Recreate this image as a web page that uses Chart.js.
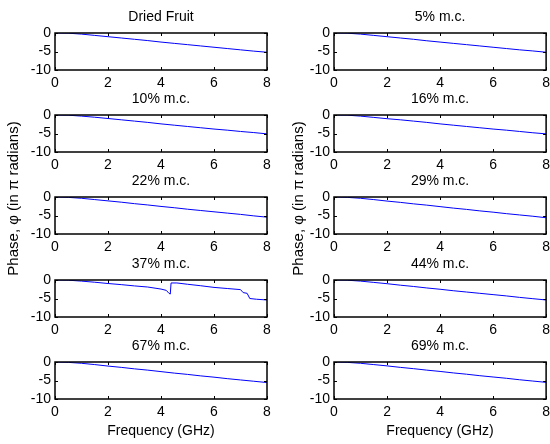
<!DOCTYPE html>
<html>
<head>
<meta charset="utf-8">
<script src="https://cdn.jsdelivr.net/npm/chart.js@4"></script>
<style>
  body { margin: 0; background: #fff; width: 550px; height: 444px; position: relative; overflow: hidden; }
  canvas { position: absolute; }
</style>
</head>
<body>
<script>
/* Datos (fase en pi radianes vs frecuencia en GHz). */
const freq = [0, 0.5, 1, 1.5, 2, 2.5, 3, 3.5, 4, 4.5, 5, 5.5, 6, 6.5, 7, 7.5, 8];
const dried = [0, -0.05, -0.3, -0.65, -1.0, -1.35, -1.7, -2.05, -2.45, -2.8, -3.15, -3.5, -3.85, -4.2, -4.55, -4.9, -5.2];
const mc5 = [0, -0.05, -0.3, -0.65, -1.0, -1.35, -1.7, -2.1, -2.45, -2.8, -3.15, -3.5, -3.85, -4.2, -4.55, -4.85, -5.2];
const mc10 = [0, -0.05, -0.3, -0.6, -0.95, -1.3, -1.65, -2.0, -2.4, -2.75, -3.1, -3.45, -3.8, -4.1, -4.45, -4.75, -5.1];
const mc16 = [0, -0.05, -0.3, -0.65, -1.0, -1.3, -1.65, -2.0, -2.4, -2.75, -3.1, -3.45, -3.8, -4.1, -4.45, -4.8, -5.1];
const mc22 = [0, -0.1, -0.35, -0.7, -1.05, -1.4, -1.8, -2.15, -2.55, -2.9, -3.3, -3.65, -4.0, -4.35, -4.7, -5.1, -5.45];
const mc29 = [0, -0.1, -0.35, -0.7, -1.1, -1.45, -1.85, -2.2, -2.6, -3.0, -3.35, -3.75, -4.1, -4.5, -4.85, -5.2, -5.6];
const freq37 = [0, 0.5, 1, 1.5, 2, 2.5, 3, 3.5, 4, 4.2, 4.3, 4.35, 4.38, 4.6, 5, 5.5, 6, 6.5, 7, 7.1, 7.25, 7.35, 7.6, 8];
const mc37 = [0, -0.05, -0.3, -0.6, -0.95, -1.25, -1.6, -1.9, -2.45, -2.8, -3.6, -3.8, -0.8, -0.8, -1.15, -1.55, -2.0, -2.3, -2.6, -3.4, -3.6, -5.0, -5.2, -5.4];
const mc44 = [0, -0.05, -0.3, -0.65, -1.0, -1.4, -1.75, -2.15, -2.5, -2.9, -3.25, -3.6, -3.95, -4.3, -4.7, -5.05, -5.4];
const mc67 = [0, -0.1, -0.35, -0.7, -1.1, -1.45, -1.85, -2.2, -2.6, -3.0, -3.35, -3.75, -4.1, -4.5, -4.85, -5.2, -5.55];
const mc69 = [0, -0.1, -0.35, -0.7, -1.05, -1.45, -1.8, -2.2, -2.55, -2.95, -3.3, -3.7, -4.05, -4.4, -4.8, -5.15, -5.5];

const titles = ["Dried Fruit", "5% m.c.", "10% m.c.", "16% m.c.", "22% m.c.", "29% m.c.", "37% m.c.", "44% m.c.", "67% m.c.", "69% m.c."];
const series = [dried, mc5, mc10, mc16, mc22, mc29, mc37, mc44, mc67, mc69];
const xTicks = [0, 2, 4, 6, 8];
const yTicks = [-10, -5, 0];
const xLabel = "Frequency (GHz)";
const yLabel = "Phase, \u03c6 (in \u03c0 radians)";

const rowTops = [33, 115, 197, 280, 362];
const plotH = 37;
const cols = [
  { canvasLeft: 0, width: 277, padRight: 10, labelOff: 41 },
  { canvasLeft: 279, width: 276, padRight: 0, labelOff: 35 },
];
const titleH = 26;
const labelRow = 2;
const labelExtraTop = 70;
const labelExtraBottom = 40;
const fontFam = '"Liberation Sans", Arial, Helvetica, sans-serif';

Chart.defaults.font.family = fontFam;
Chart.defaults.color = "#000";

/* Caja completa con marcas hacia adentro, como en MATLAB. */
const boxTicks = {
  id: "boxTicks",
  afterDraw(chart) {
    const { ctx, chartArea: a, scales: { x, y } } = chart;
    ctx.save();
    ctx.strokeStyle = "#000";
    ctx.lineWidth = 1.5;
    ctx.strokeRect(a.left, a.top, a.right - a.left, a.bottom - a.top);
    ctx.lineWidth = 1;
    ctx.beginPath();
    x.ticks.forEach((t) => {
      const px = Math.round(x.getPixelForValue(t.value)) + 0.5;
      ctx.moveTo(px, a.top); ctx.lineTo(px, a.top + 3);
      ctx.moveTo(px, a.bottom); ctx.lineTo(px, a.bottom - 3);
    });
    y.ticks.forEach((t) => {
      const py = Math.round(y.getPixelForValue(t.value)) + 0.5;
      ctx.moveTo(a.left, py); ctx.lineTo(a.left + 3, py);
      ctx.moveTo(a.right, py); ctx.lineTo(a.right - 3, py);
    });
    ctx.stroke();
    ctx.restore();
  },
};

/* Etiqueta vertical compartida, dibujada en la fila central. */
const makeYLabel = (off) => ({
  id: "yLab",
  afterDraw(chart) {
    const { ctx, chartArea: a } = chart;
    ctx.save();
    ctx.translate(a.left - off, a.top + 1.5);
    ctx.rotate(-Math.PI / 2);
    ctx.font = "15px " + fontFam;
    ctx.fillStyle = "#000";
    ctx.textAlign = "center";
    ctx.textBaseline = "middle";
    ctx.fillText(yLabel, 0, 0);
    ctx.restore();
  },
});

series.forEach((vals, i) => {
  const row = Math.floor(i / 2);
  const col = cols[i % 2];
  const isBottom = row === rowTops.length - 1;
  const xs = vals === mc37 ? freq37 : freq;
  const pts = xs.map((f, k) => ({ x: f, y: vals[k] }));
  const padTop = row === labelRow ? labelExtraTop : 0;
  const padBottom = row === labelRow ? labelExtraBottom : 0;

  const cv = document.createElement("canvas");
  const xH = isBottom ? 41 : 22;
  cv.width = col.width;
  cv.height = padTop + titleH + plotH + xH + padBottom;
  cv.style.left = col.canvasLeft + "px";
  cv.style.top = rowTops[row] - titleH - padTop + "px";
  document.body.appendChild(cv);

  const plugins = [boxTicks];
  if (row === labelRow) plugins.push(makeYLabel(col.labelOff));

  new Chart(cv, {
    type: "line",
    data: {
      datasets: [{
        data: pts,
        borderColor: "#0000ff",
        borderWidth: 1,
        pointRadius: 0,
        tension: 0,
        fill: false,
      }],
    },
    options: {
      responsive: false,
      animation: false,
      events: [],
      layout: { padding: { left: 0, right: col.padRight, top: padTop, bottom: padBottom } },
      plugins: {
        legend: { display: false },
        tooltip: { enabled: false },
        title: {
          display: true,
          text: titles[i],
          fullSize: false,
          color: "#000",
          font: { size: 14, weight: "normal", lineHeight: 1 },
          padding: { top: 3, bottom: 9 },
        },
      },
      scales: {
        x: {
          type: "linear",
          min: 0,
          max: 8,
          afterBuildTicks: (s) => { s.ticks = xTicks.map((v) => ({ value: v })); },
          ticks: { padding: 5, font: { size: 14 }, maxRotation: 0, autoSkip: false },
          grid: { display: false, drawTicks: false },
          border: { display: false },
          title: { display: isBottom, text: xLabel, font: { size: 14 }, padding: { top: 2, bottom: 0 } },
          afterFit: (s) => { s.height = xH; },
        },
        y: {
          min: -10,
          max: 0,
          afterBuildTicks: (s) => { s.ticks = yTicks.map((v) => ({ value: v })); },
          ticks: { padding: 4, font: { size: 14 }, autoSkip: false },
          grid: { display: false, drawTicks: false },
          border: { display: false },
          afterFit: (s) => { s.width = 55; },
        },
      },
    },
    plugins: plugins,
  });
});
</script>
</body>
</html>
